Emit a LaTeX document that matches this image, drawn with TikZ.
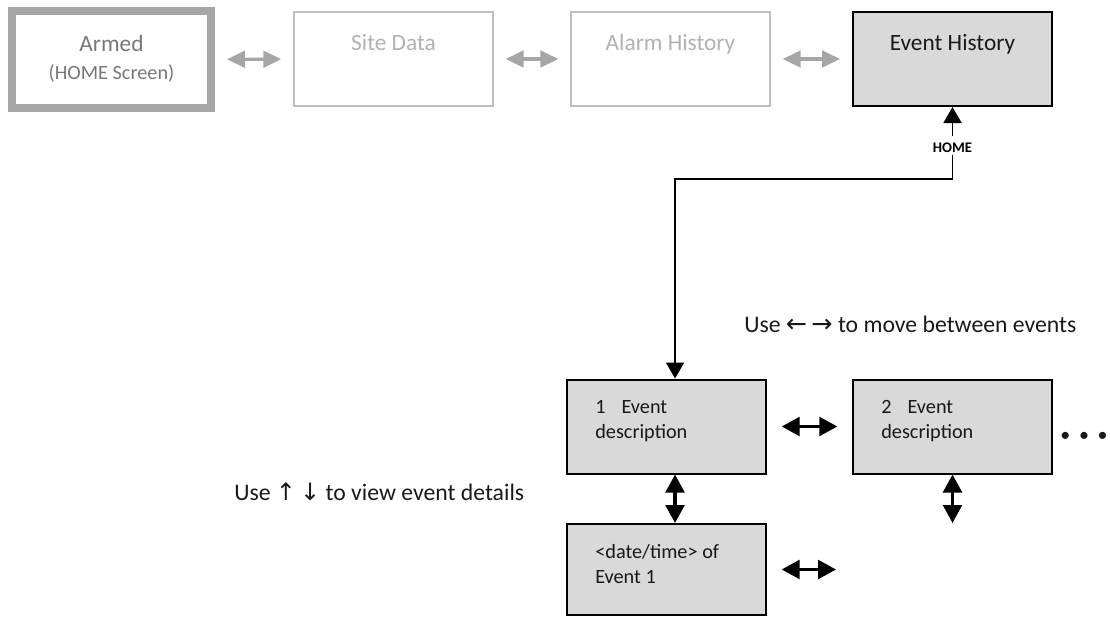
\documentclass[tikz,border=0pt]{standalone}
\usepackage{fontspec}
\setmainfont{Carlito}
\newfontfamily\arrowfont{DejaVu Sans}
\usetikzlibrary{arrows.meta}

\definecolor{screenfill}{RGB}{217,217,217}
\definecolor{homegray}{RGB}{166,166,166}
\definecolor{hometext}{RGB}{120,120,120}
\definecolor{palegray}{RGB}{191,191,191}
\definecolor{paletext}{RGB}{178,178,178}
\definecolor{inktext}{RGB}{25,25,25}

\tikzset{
  screen/.style={draw=black, line width=1.5pt, fill=screenfill, minimum width=149.25pt, minimum height=70.5pt, inner sep=0pt},
  palescreen/.style={draw=palegray, line width=1.1pt, fill=white, minimum width=149.25pt, minimum height=70.5pt, inner sep=0pt},
  homescreen/.style={draw=homegray, line width=6pt, fill=white, minimum width=149.25pt, minimum height=72.75pt, inner sep=0pt},
  titletext/.style={inner sep=0.75pt, font=\fontsize{17.5}{21}\selectfont},
  bodytext/.style={inner sep=0.75pt, anchor=west, align=left, text=inktext, font=\fontsize{15.2}{18.75}\selectfont},
  hinttext/.style={inner sep=0.75pt, anchor=west, text=inktext, font=\fontsize{17.8}{21}\selectfont},
  grayswap/.style={{Triangle[length=13.5pt,width=12.5pt]}-{Triangle[length=13.5pt,width=12.5pt]}, draw=homegray, line width=2.4pt, shorten <=9pt, shorten >=9pt},
  blackswap/.style={{Triangle[length=13.5pt,width=14pt]}-{Triangle[length=13.5pt,width=14pt]}, draw=black, line width=2.6pt},
  flowline/.style={-{Triangle[length=12pt,width=13.5pt]}, draw=black, line width=1.4pt},
}

\begin{document}
\begin{tikzpicture}[x=0.75pt,y=0.75pt,yscale=-1,xscale=1]
    \useasboundingbox (0,0) rectangle (1110,617);

    %Screens: top row
    \node[homescreen] (armed) at (111.5,59.5) {};
    \node[palescreen] (site) at (393.5,59) {};
    \node[palescreen] (alarm) at (670.5,59) {};
    \node[screen] (evh) at (952.5,59) {};
    %Screens: events
    \node[screen] (ev1) at (666.5,426.5) {};
    \node[screen] (ev2) at (952.5,426.5) {};
    \node[screen, minimum height=68.25pt] (dt1) at (666.5,569.5) {};

    % Text Node
    \node[titletext, text=hometext] (armedtitle) at (111.5,43) {Armed};
    % Text Node
    \node[titletext, text=hometext, font=\fontsize{15.2}{18}\selectfont] (armedsub) at (111.5,73) {(HOME Screen)};
    % Text Node
    \node[titletext, text=paletext] (sitetitle) at (393.5,43) {Site Data};
    % Text Node
    \node[titletext, text=paletext] (alarmtitle) at (670.5,44) {Alarm History};
    % Text Node
    \node[titletext, text=inktext] (evhtitle) at (952.5,44) {Event History};
    % Text Node
    \node[bodytext] (ev1text) at (594,421.5) {1\hspace{12pt}Event\\description};
    % Text Node
    \node[bodytext] (ev2text) at (880,421.5) {2\hspace{12pt}Event\\description};
    % Text Node
    \node[bodytext] (dt1text) at (594,564.5) {<date/time> of\\Event 1};
    % Text Node
    \node[font=\bfseries\fontsize{11}{13}\selectfont, inner sep=1.5pt, text=black] (home) at (952.5,148) {HOME};
    % Text Node
    \node[hinttext] (swaphint) at (743,324) {Use {\arrowfont\fontsize{19}{19}\selectfont ←\,→} to move between events};
    % Text Node
    \node[hinttext] (detailhint) at (233,492) {Use {\arrowfont\fontsize{18}{18}\selectfont ↑\,↓} to view event details};
    % Text Node
    \node[text=inktext, font=\fontsize{15}{15}\selectfont, inner sep=0.75pt] (moreevents) at (1084,437) {•\hspace{6.5pt}•\hspace{6.5pt}•};

    %Gray arrows between screens
    \draw[grayswap] (armed) -- (site);
    \draw[grayswap] (site) -- (alarm);
    \draw[grayswap] (alarm) -- (evh);

    %HOME connector
    \coordinate (bend) at (952.5,179);
    \coordinate (ev1in) at ([xshift=6.4pt]ev1.north);
    \draw[flowline, shorten <=4pt] (home) -- (evh);
    \draw[flowline] (home) -- (bend) -| (ev1in);

    %Black arrows between events
    \coordinate (dt1next) at (836,569.5);
    \coordinate (ev2next) at (952.5,523);
    \draw[blackswap, shorten <=11pt, shorten >=11pt] (ev1) -- (ev2);
    \draw[blackswap] ([xshift=11pt]dt1.east) -- (dt1next);
    \draw[blackswap] ([xshift=6.4pt]ev1.south) -- ([xshift=6.4pt]dt1.north);
    \draw[blackswap] (ev2) -- (ev2next);

\end{tikzpicture}
\end{document}
